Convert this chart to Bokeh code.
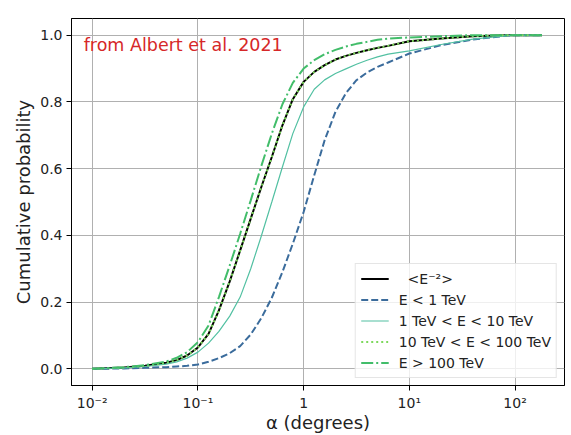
from bokeh.plotting import figure
from bokeh.models import Range1d, FixedTicker, Label, Legend, LegendItem
from bokeh.embed import file_html
from bokeh.resources import INLINE

# angle grid (degrees), roughly every 0.1 decade
alpha = [0.01, 0.02, 0.0316, 0.05, 0.063, 0.079, 0.1, 0.126, 0.158, 0.2, 0.251, 0.316, 0.398,
         0.5, 0.63, 0.79, 1.0, 1.26, 1.58, 2.0, 2.51, 3.16, 3.98, 5.0, 6.3, 10.0, 20.0, 40.0,
         80.0, 100.0, 180.0]

cdf_e2 = [0.0, 0.004, 0.009, 0.018, 0.026, 0.040, 0.064, 0.105, 0.175, 0.262, 0.355, 0.45, 0.545,
          0.635, 0.73, 0.808, 0.86, 0.89, 0.91, 0.927, 0.938, 0.947, 0.955, 0.962, 0.968,
          0.982, 0.99, 0.997, 1.0, 1.0, 1.0]
cdf_lt1 = [0.0, 0.001, 0.003, 0.005, 0.007, 0.009, 0.013, 0.021, 0.032, 0.047, 0.068, 0.103, 0.152,
           0.213, 0.29, 0.375, 0.47, 0.58, 0.685, 0.77, 0.826, 0.865, 0.888, 0.905, 0.918,
           0.945, 0.97, 0.987, 0.998, 1.0, 1.0]
cdf_1_10 = [0.0, 0.003, 0.007, 0.014, 0.021, 0.032, 0.05, 0.077, 0.112, 0.158, 0.215, 0.3, 0.398,
            0.5, 0.605, 0.705, 0.785, 0.838, 0.866, 0.885, 0.899, 0.913, 0.925, 0.935, 0.943,
            0.953, 0.972, 0.988, 0.998, 1.0, 1.0]
cdf_10_100 = [0.0, 0.004, 0.009, 0.018, 0.026, 0.040, 0.064, 0.105, 0.175, 0.262, 0.355, 0.45, 0.545,
              0.635, 0.73, 0.808, 0.86, 0.89, 0.91, 0.927, 0.938, 0.947, 0.955, 0.962, 0.968,
              0.982, 0.99, 0.997, 1.0, 1.0, 1.0]
cdf_gt100 = [0.0, 0.005, 0.011, 0.022, 0.033, 0.05, 0.08, 0.13, 0.215, 0.31, 0.405, 0.505, 0.608,
             0.705, 0.793, 0.857, 0.9, 0.925, 0.943, 0.956, 0.966, 0.974, 0.98, 0.986, 0.99,
             0.993, 0.997, 1.0, 1.0, 1.0, 1.0]

labels = ["  <E⁻²>", "E < 1 TeV", "1 TeV < E < 10 TeV", "10 TeV < E < 100 TeV", "E > 100 TeV"]
x_ticks = [0.01, 0.1, 1, 10, 100]
x_tick_labels = ["10⁻²", "10⁻¹", "1", "10¹", "10²"]
y_ticks = [0.0, 0.2, 0.4, 0.6, 0.8, 1.0]

FONT = "DejaVu Sans"

p = figure(width=571, height=435, x_axis_type="log", output_backend="svg",
           toolbar_location=None, min_border_left=71, min_border_right=7,
           min_border_top=18, min_border_bottom=50)
p.x_range = Range1d(10 ** -2.196, 10 ** 2.468)
p.y_range = Range1d(-0.05, 1.05)

p.outline_line_color = "black"
p.outline_line_width = 1
p.outline_line_alpha = 1.0

for ax in (p.xaxis[0], p.yaxis[0]):
    ax.axis_line_color = "black"
    ax.major_tick_line_color = "black"
    ax.major_tick_out = 5
    ax.major_tick_in = 0
    ax.minor_tick_line_color = None
    ax.major_label_text_font = FONT
    ax.major_label_text_font_size = "14px"
    ax.major_label_text_color = "#222222"
    ax.major_label_standoff = 4
    ax.axis_label_text_font = FONT
    ax.axis_label_text_font_size = "18px"
    ax.axis_label_text_font_style = "normal"
    ax.axis_label_text_color = "#222222"

p.xaxis.ticker = FixedTicker(ticks=x_ticks, minor_ticks=[])
p.xaxis.major_label_overrides = {t: l for t, l in zip(x_ticks, x_tick_labels)}
p.yaxis.ticker = FixedTicker(ticks=y_ticks, minor_ticks=[])
p.yaxis.major_label_overrides = {t: f"{t:.1f}" for t in y_ticks}
p.xaxis.axis_label = "α (degrees)"
p.yaxis.axis_label = "Cumulative probability"
p.xaxis.axis_label_standoff = -2
p.yaxis.axis_label_standoff = 3

p.xgrid.ticker = FixedTicker(ticks=x_ticks, minor_ticks=[])
p.ygrid.ticker = FixedTicker(ticks=y_ticks, minor_ticks=[])
for g in (p.xgrid[0], p.ygrid[0]):
    g.grid_line_color = "#b0b0b0"
    g.grid_line_width = 1

r0 = p.line(alpha, cdf_e2, line_color="black", line_width=2)
r1 = p.line(alpha, cdf_lt1, line_color="#3b6c9c", line_width=2, line_dash="7 3")
r2 = p.line(alpha, cdf_1_10, line_color="#52c0a2", line_width=1.2)
r3 = p.line(alpha, cdf_10_100, line_color="#7dd85c", line_width=2, line_dash="2 3")
r4 = p.line(alpha, cdf_gt100, line_color="#42bd6a", line_width=2, line_dash="12 3 2 3")

legend = Legend(items=[LegendItem(label=l, renderers=[r]) for l, r in zip(labels, [r0, r1, r2, r3, r4])],
                location="bottom_right")
legend.margin = 7
legend.padding = 5
legend.spacing = 2
legend.label_height = 19
legend.glyph_height = 19
legend.glyph_width = 28
legend.label_standoff = 10
legend.label_text_font = FONT
legend.label_text_font_size = "14px"
legend.label_text_color = "#222222"
legend.border_line_color = "#cccccc"
legend.background_fill_alpha = 0.8
p.add_layout(legend)

p.add_layout(Label(x=0.0083, y=0.971, text="from Albert et al. 2021", text_color="#d62728",
                   text_font=FONT, text_font_size="17.5px", text_baseline="middle"))

open("out.html", "w").write(file_html(p, INLINE))
